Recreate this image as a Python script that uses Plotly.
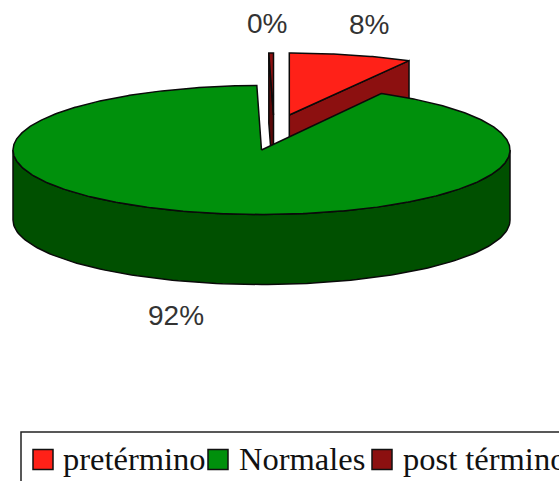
import numpy as np
import plotly.graph_objects as go

# Share of births by gestational age
categories = ["pretérmino", "Normales", "post término"]
values = [8.0, 91.7, 0.3]

top_colors = ["#FF2118", "#00900C", "#8C1010"]
wall_colors = ["#8C1010", "#005000", "#5A0808"]

# Pixel layout of the pie: apex of each slice after it is pulled out
WIDTH, HEIGHT = 559, 481
RX = 248.5
DEPTH = 70
apex_x = [289.3, 261.5, 273.5]
apex_y = [115, 150, 115]
radius_y = [62, 64.5, 62]

label_x = [369, 176, 267]
label_y = [24, 315, 23]

legend_box = (21, 432, 600, 500)
swatch_x = [33, 208, 372]
text_x = [61, 236.5, 400.5]
SWATCH_Y = (449.5, 469.5)
LEGEND_TEXT_Y = 458.5

fig = go.Figure()


def point(i, deg):
    t = np.radians(deg)
    return apex_x[i] + RX * np.sin(t), apex_y[i] - radius_y[i] * np.cos(t)


def polygon(xs, ys, color, name):
    fig.add_trace(go.Scatter(
        x=list(xs), y=list(ys), mode="lines", fill="toself", fillcolor=color,
        line=dict(color="#0A0A0A", width=1.5), name=name, hoverinfo="name",
        showlegend=False,
    ))


def draw_slice(i, start, end):
    name = categories[i]
    # Cut faces turned towards the viewer
    for deg, visible in ((start, 180 < start % 360 < 360), (end, 0 < end % 360 < 180)):
        if visible:
            rx_, ry_ = point(i, deg)
            polygon([apex_x[i], rx_, rx_, apex_x[i], apex_x[i]],
                    [apex_y[i], ry_, ry_ + DEPTH, apex_y[i] + DEPTH, apex_y[i]],
                    wall_colors[i], name)
    # Outer wall along the front half of the rim
    lo, hi = max(start, 90), min(end, 270)
    if lo < hi:
        arc = np.linspace(lo, hi, 121)
        ax, ay = point(i, arc)
        polygon(np.r_[ax, ax[::-1], ax[0]], np.r_[ay, ay[::-1] + DEPTH, ay[0]],
                wall_colors[i], name)
    # Top face
    arc = np.linspace(start, end, max(int(end - start) * 2, 2) + 1)
    ax, ay = point(i, arc)
    polygon(np.r_[apex_x[i], ax, apex_x[i]], np.r_[apex_y[i], ay, apex_y[i]],
            top_colors[i], name)


# Angles run clockwise from twelve o'clock
total = sum(values)
edges = np.r_[0, np.cumsum(values)] / total * 360

# Back slices first so the large slice covers their lower walls
for i in (2, 0, 1):
    draw_slice(i, edges[i], edges[i + 1])

annotations = [
    dict(x=label_x[i], y=label_y[i], text=f"{round(values[i])}%", showarrow=False,
         font=dict(family="Liberation Sans", size=28, color="#333333"))
    for i in range(len(values))
]

# Legend frame, cut off by the page edge
shapes = [dict(type="rect", x0=legend_box[0], y0=legend_box[1], x1=legend_box[2], y1=legend_box[3],
               line=dict(color="#222222", width=1.5), fillcolor="white", layer="below")]
for i, name in enumerate(categories):
    shapes.append(dict(type="rect", x0=swatch_x[i], x1=swatch_x[i] + 20,
                       y0=SWATCH_Y[0], y1=SWATCH_Y[1],
                       fillcolor=top_colors[i], line=dict(color="#111111", width=1.5)))
    annotations.append(dict(x=text_x[i], y=LEGEND_TEXT_Y, text=name, showarrow=False,
                            xanchor="left", yanchor="middle",
                            font=dict(family="Liberation Serif", size=32.5, color="#111111")))

fig.update_layout(
    width=WIDTH, height=HEIGHT, margin=dict(l=0, r=0, t=0, b=0),
    paper_bgcolor="white", plot_bgcolor="white", showlegend=False,
    xaxis=dict(range=[0, WIDTH], visible=False, fixedrange=True),
    yaxis=dict(range=[HEIGHT, 0], visible=False, fixedrange=True),
    shapes=shapes, annotations=annotations,
)

fig.write_html("out.html", config=dict(displayModeBar=False))
